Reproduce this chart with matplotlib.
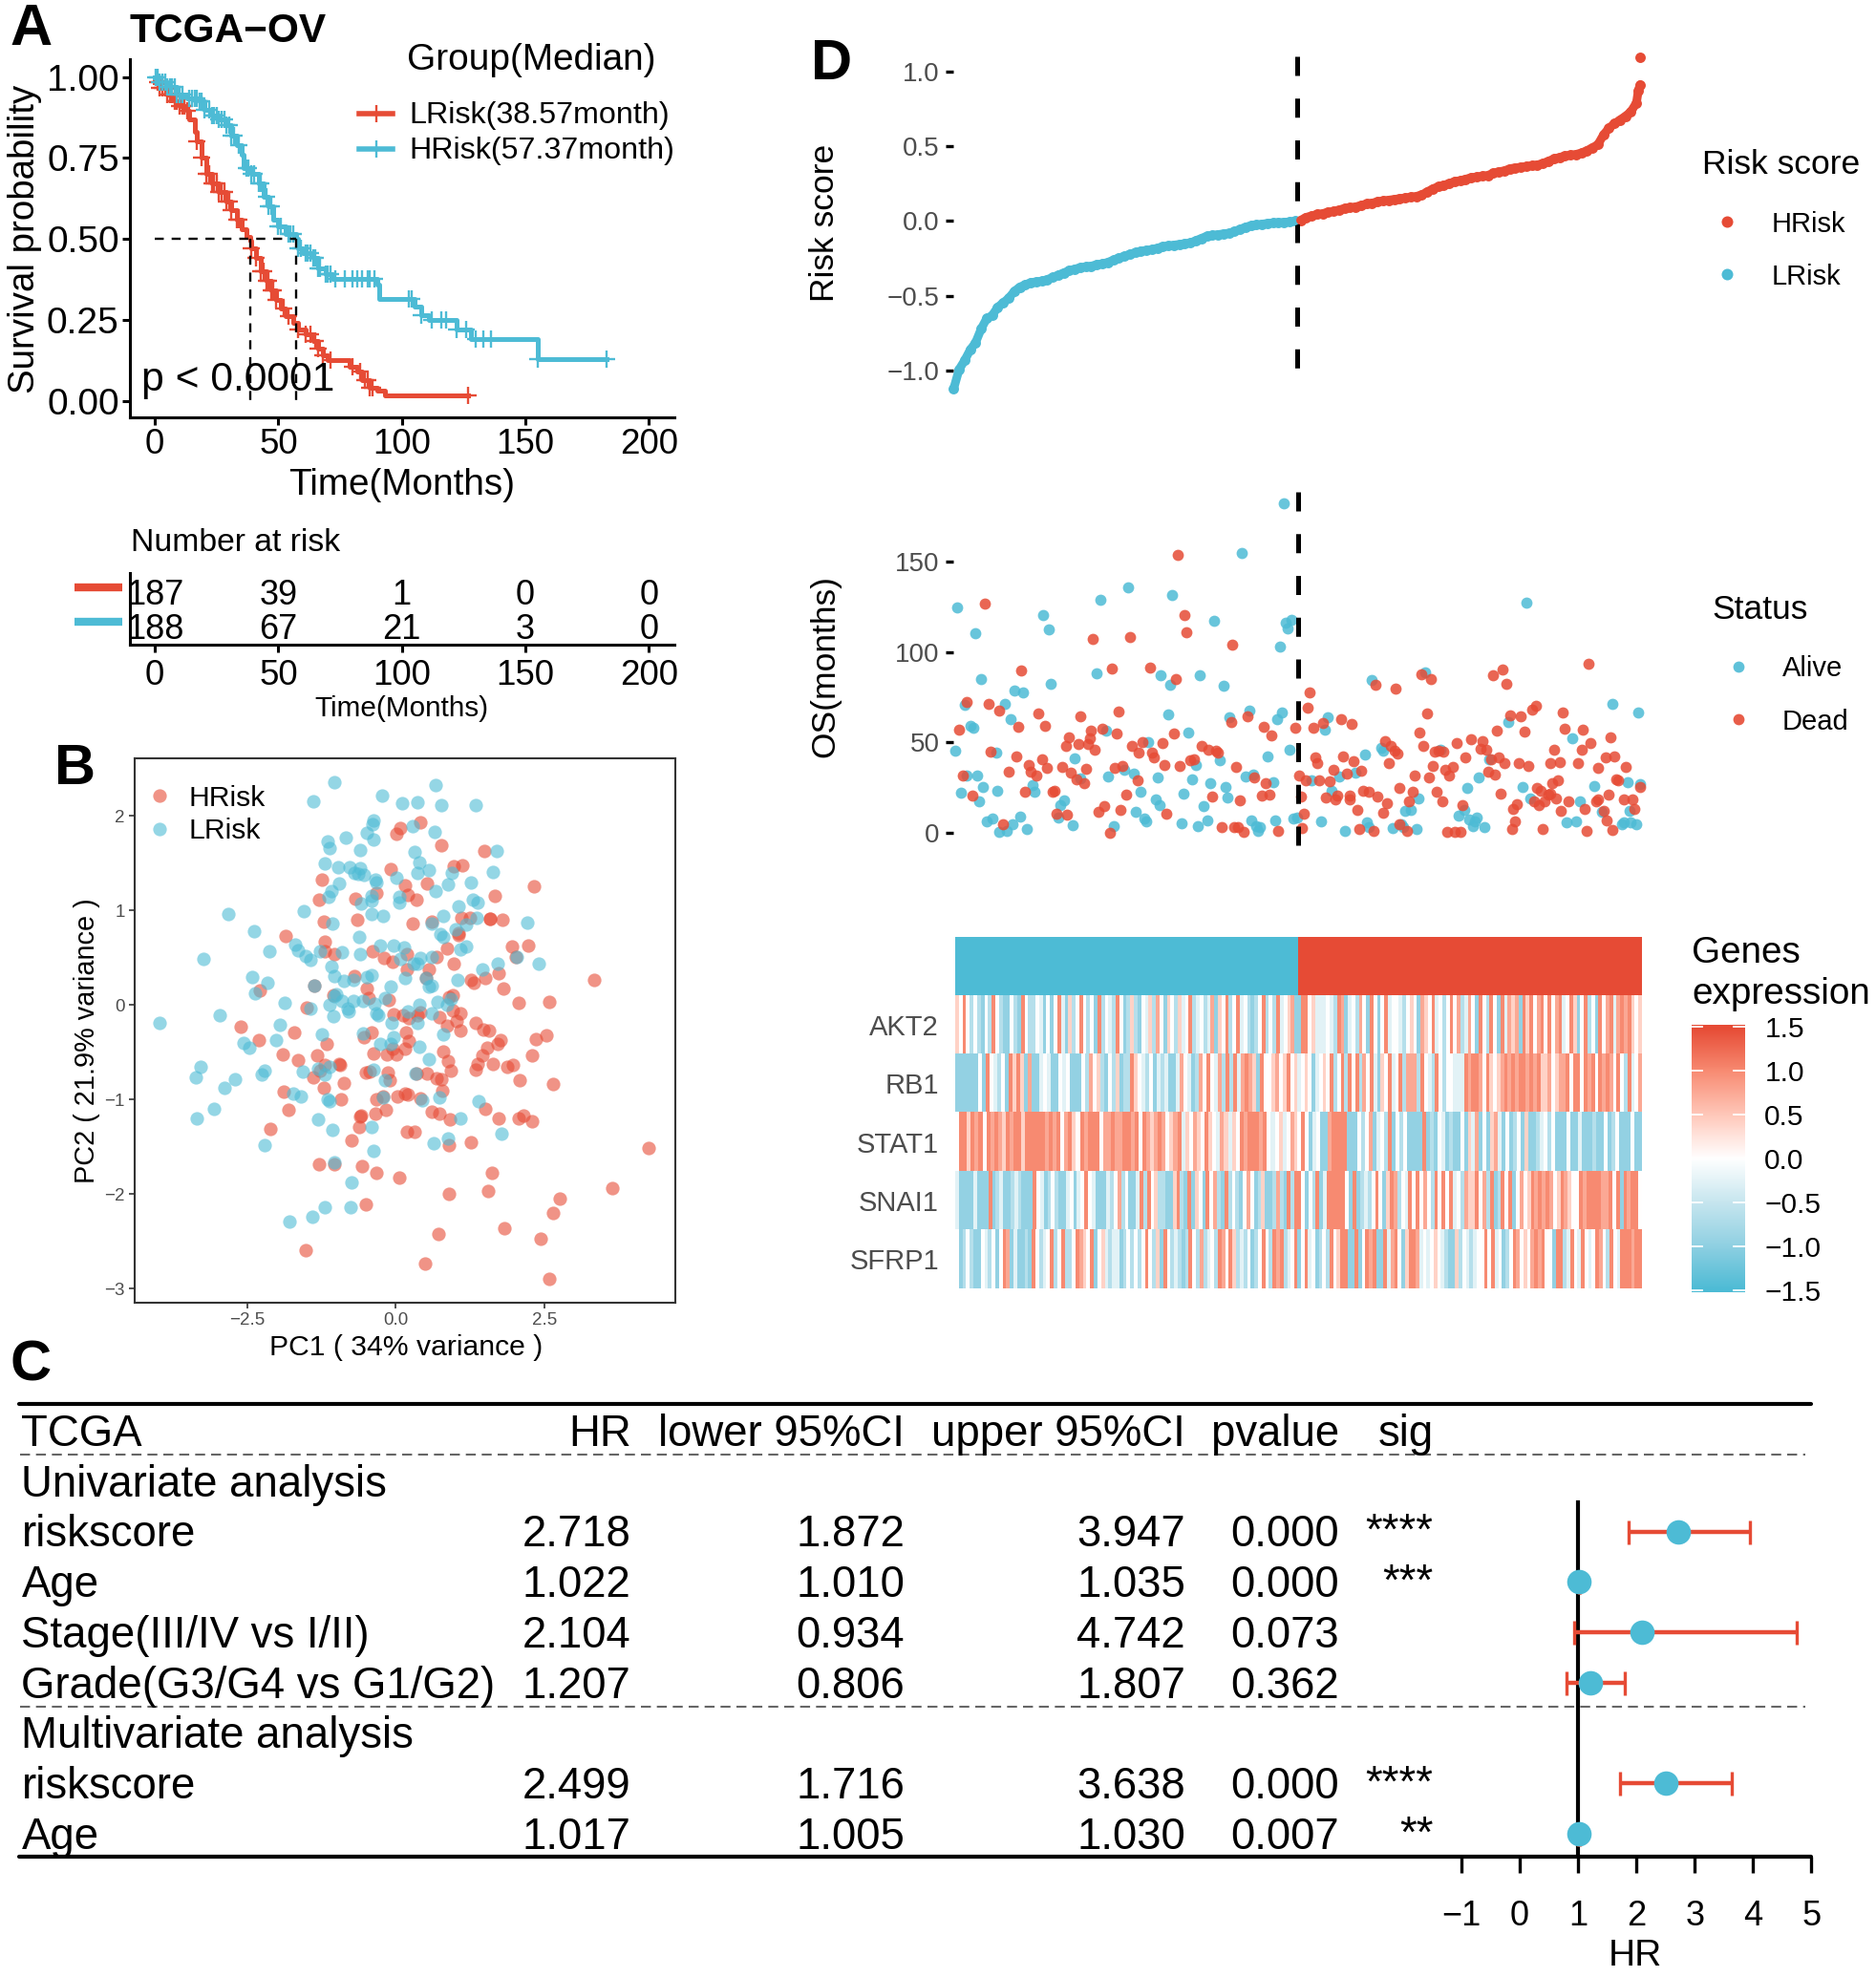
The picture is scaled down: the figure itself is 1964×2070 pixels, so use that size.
import numpy as np
import matplotlib
matplotlib.use('Agg')
import matplotlib.pyplot as plt
from matplotlib.colors import LinearSegmentedColormap

plt.rcParams['font.family'] = ['Liberation Sans', 'DejaVu Sans']

RED = '#E64B35'
BLUE = '#4DBBD5'
GRAY = '#4d4d4d'

# panel A, survival curves
lrisk_t = [0, 2, 5, 8, 10, 13, 14, 16, 17, 19, 21, 23, 26, 29, 31, 33, 35, 37, 38.57, 39, 41, 43, 45, 47, 49, 51, 53, 56, 58, 61, 64, 66, 68, 70, 77, 79, 82, 84, 87, 90, 93, 127]
lrisk_s = [0.985, 0.965, 0.945, 0.925, 0.91, 0.895, 0.87, 0.83, 0.80, 0.75, 0.70, 0.67, 0.645, 0.615, 0.59, 0.56, 0.53, 0.505, 0.495, 0.47, 0.44, 0.40, 0.37, 0.34, 0.31, 0.285, 0.26, 0.24, 0.22, 0.205, 0.185, 0.16, 0.14, 0.125, 0.125, 0.105, 0.09, 0.065, 0.04, 0.03, 0.015, 0.015]
hrisk_t = [0, 2, 5, 9, 13, 18, 20, 23, 26, 29, 31, 33, 35, 36, 39, 42, 44, 46, 48, 50, 53, 57.37, 58, 60, 64, 66, 69, 72, 90, 91, 103, 105, 108, 111, 120, 122, 127, 128, 154, 155, 183]
hrisk_s = [1.0, 0.985, 0.97, 0.945, 0.935, 0.925, 0.90, 0.88, 0.87, 0.85, 0.82, 0.79, 0.76, 0.72, 0.70, 0.67, 0.63, 0.60, 0.56, 0.54, 0.515, 0.50, 0.47, 0.455, 0.44, 0.41, 0.39, 0.375, 0.36, 0.315, 0.315, 0.29, 0.265, 0.25, 0.25, 0.22, 0.22, 0.19, 0.19, 0.13, 0.13]
lrisk_cens = [1, 2, 3, 4, 5, 6, 7, 8, 9, 10, 11, 12, 13, 17, 19, 21, 22, 23, 24, 25, 26, 27, 28, 29, 30, 31, 33, 34, 39, 41, 43, 44, 45, 46, 47, 48, 49, 52, 54, 58, 61, 63, 65, 66, 68, 71, 80, 83, 85, 86, 87, 88, 127]
hrisk_cens = [0.5, 1, 2, 3, 4, 5, 6, 7, 8, 9, 10, 11, 14, 15, 16, 17, 18, 19, 20, 22, 23, 24, 25, 26, 27, 28, 29, 30, 31, 32, 34, 37, 38, 39, 40, 42, 43, 45, 46, 47, 50, 51, 54, 55, 56, 58, 59, 61, 62, 63, 64, 65, 66, 67, 69, 70, 71, 73, 77, 80, 82, 84, 86, 87, 89, 103, 104, 108, 112, 116, 118, 122, 126, 130, 133, 136, 155, 183]
median_months = [38.57, 57.37]
risk_times = [0, 50, 100, 150, 200]
at_risk_l = [187, 39, 1, 0, 0]
at_risk_h = [188, 67, 21, 3, 0]

# panel B, PCA
pca_h_x = [2.33, 1.67, 1.49, 1.12, .98, .77, .41, .08, .01, -.08, .15, .53, .21, .34, -1.25, -1.29, -.68, -.32, -1.21, -.65, .29, .60, 1.10, 1.24, 1.58, 1.59, 1.80, 1.05, 1.05, -1.86, -1.19, -1.19, -1.04, -.39, -.20, -.05, .19, .68, .86, 1.95, 2.23, 2.02, .98, .18, .55, .51, -.70, -.49, -1.37, -.46, -1.05, -2.28, 1.73, 1.50, 1.26, 1.31, 1.81, 3.34, 2.06, 2.58, .96, .89, -.11, -1.50, -.04, .12, .22, .37, .41, .74, .96, 1.08, 1.03, .86, 1.08, 1.35, 1.47, 1.57, 2.54, 2.35, -2.61, -2.30, -1.71, -.40, -.53, .17, .22, 1.76, 1.71, 1.53, -1.17, -.05, .15, -.15, .01, -.38, .79, 1.45, 2.30, -1.90, -1.65, -1.33, -1.20, -.96, -.94, .88, 1.38, 1.64, 1.97, 1.88, .92, 1.35, -1.28, -1.39, -.51, -.44, -.13, -.10, .35, .53, .69, .77, 2.09, 2.65, -.88, -1.21, -1.88, .78, -.92, -.32, -.22, .03, .16, .20, .41, -1.80, -.16, -.34, .60, .74, .91, 1.50, 1.73, 2.06, 2.15, 2.30, -.60, -.58, -.62, -2.11, .19, .32, -.75, .89, 1.26, -1.29, -1.03, -.57, -.33, .06, 1.62, 1.55, .90, 3.64, 4.26, 2.75, 2.65, -.51, 1.82, .72, 2.44, -1.51, .49, 2.58]
pca_h_y = [1.26, 1.15, 1.63, 1.48, 1.47, 1.69, 1.93, 1.87, 1.81, 1.44, 1.27, 1.29, 1.16, 1.11, 1.33, 1.11, 1.12, 1.18, .88, .90, .86, .88, .92, .92, .91, .91, .90, .76, .74, .73, .67, .57, .54, .57, .50, .46, .54, .51, .60, .62, .63, .51, .44, .38, .38, .29, .31, .17, .20, .07, .10, .15, .34, .29, .26, .23, .17, .26, .02, .03, .10, .08, .05, -.03, -.10, -.11, -.14, -.11, -.08, -.13, -.06, -.09, -.17, -.22, -.27, -.19, -.26, -.27, -.32, -.36, -.23, -.37, -.29, -.29, -.34, -.29, -.38, -.37, -.41, -.45, -.41, -.46, -.46, -.52, -.52, -.51, -.49, -.53, -.53, -.52, -.58, -.53, -.63, -.62, -.63, -.59, -.62, -.62, -.63, -.65, -.70, -.69, -.70, -.77, -.72, -.71, -.72, -.80, -.73, -.73, -.78, -.79, -.80, -.84, -.83, -.88, -.92, -.91, -1.00, -1.00, -.97, -.97, -.94, -.95, -.99, -1.11, -1.11, -1.15, -1.13, -1.15, -1.21, -1.10, -1.20, -1.20, -1.17, -1.23, -1.18, -1.17, -1.29, -1.31, -1.34, -1.34, -1.43, -1.48, -1.45, -1.69, -1.69, -1.71, -1.78, -1.83, -1.78, -1.97, -2.00, -1.94, -1.51, -2.05, -2.20, -2.11, -2.36, -2.42, -2.47, -2.60, -2.74, -2.90]
pca_l_x = [-1.03, .67, -1.38, -.23, .11, .37, .77, 1.35, -.37, -.39, .29, .65, -.48, -.84, -.38, -1.14, -1.12, -.60, 1.70, .31, .39, -1.19, -.97, -.77, -.60, -.70, -.63, -.53, .56, .37, .94, 1.63, .01, -.34, -.33, -.95, -1.09, -1.13, 1.27, .88, .67, -.41, -.40, -.58, .06, .06, 1.29, 1.38, 1.05, -1.55, -2.82, -.41, -.22, .79, 1.36, 1.19, 2.21, -1.06, .60, 1.01, -2.39, .75, -.61, .80, -1.69, -1.64, -.27, -.04, .14, 1.18, 1.09, -2.12, -1.27, -.91, -.60, -1.52, -1.43, .61, .41, .08, .30, .37, 2.04, -3.23, 2.41, 1.71, 1.45, -1.09, -1.03, -2.42, -.41, -.48, -2.16, -.88, -.71, .16, 1.04, .51, .61, .55, -.09, -2.36, -1.37, -1.00, -1.03, -1.87, -1.12, -.90, -.71, -.55, -.36, -.18, .39, .70, .93, .87, -.81, -.80, -1.43, -2.96, -1.05, -.33, -.29, .21, .60, -.07, .36, -1.95, -1.24, -.55, -.03, .79, -2.56, -2.01, -2.46, -.26, .40, .56, -.08, -3.28, -3.36, -2.71, -2.88, -2.20, -2.25, -1.57, -1.30, -1.11, -1.19, -.37, -.18, .33, -1.73, -1.60, -3.06, -3.34, -1.14, -1.11, -.21, .44, .73, 1.40, -1.31, -1.07, 1.08, -.40, 1.78, -2.21, .64, .88, -.37, -1.03, -.75, -.76, -1.19, -1.41, -1.79, -3.97]
pca_l_y = [2.36, 2.33, 2.15, 2.22, 2.13, 2.14, 2.11, 2.11, 1.95, 1.91, 1.89, 1.83, 1.82, 1.77, 1.75, 1.73, 1.66, 1.64, 1.63, 1.62, 1.51, 1.50, 1.46, 1.46, 1.45, 1.40, 1.39, 1.38, 1.43, 1.40, 1.40, 1.41, 1.35, 1.33, 1.30, 1.29, 1.20, 1.14, 1.30, 1.28, 1.20, 1.15, 1.10, 1.07, 1.14, 1.08, 1.11, 1.08, 1.04, .99, .96, .96, .94, .94, .92, .85, .87, .86, .86, .80, .78, .75, .72, .72, .64, .58, .63, .63, .61, .62, .59, .57, .57, .56, .54, .52, .48, .51, .50, .49, .44, .44, .51, .49, .44, .44, .38, .41, .31, .30, .32, .30, .23, .25, .26, .28, .26, .29, .20, .19, .19, .12, .20, .11, .09, .02, 0, .04, .04, .04, .01, .07, 0, .03, .06, 0, -.04, -.07, -.04, -.11, -.12, -.09, -.11, -.07, -.09, -.19, -.19, -.21, -.31, -.30, -.34, -.31, -.40, -.37, -.45, -.41, -.44, -.57, -.41, -.65, -.77, -.79, -.88, -.70, -.74, -.71, -.67, -.65, -.74, -.69, -.80, -.73, -.94, -.97, -1.10, -1.20, -1.00, -1.02, -.98, -1.01, -.98, -1.02, -1.21, -1.32, -1.20, -1.29, -1.36, -1.48, -1.46, -1.41, -1.54, -1.67, -1.88, -2.14, -2.14, -2.24, -2.29, -.19]

# panel D, risk score: every third rank, then the last few patients
score_low = [-1.12, -.99, -.93, -.86, -.81, -.72, -.65, -.63, -.575, -.545, -.515, -.47, -.44, -.425, -.41, -.405, -.40, -.39, -.375, -.36, -.345, -.33, -.32, -.31, -.305, -.30, -.29, -.285, -.275, -.26, -.245, -.235, -.22, -.21, -.20, -.195, -.19, -.18, -.17, -.165, -.16, -.155, -.15, -.145, -.13, -.115, -.10, -.095, -.09, -.085, -.08, -.07, -.055, -.04, -.03, -.025, -.02, -.015, -.012, -.01, -.008, -.005, 0.0]
score_high = [.005, .025, .035, .045, .05, .06, .065, .075, .085, .09, .095, .105, .115, .12, .13, .135, .14, .145, .15, .155, .16, .165, .175, .195, .215, .23, .24, .25, .265, .27, .28, .29, .295, .30, .305, .32, .33, .335, .35, .355, .36, .365, .37, .375, .385, .40, .415, .425, .435, .44, .445, .455, .47, .49, .51, .575, .62, .65, .675, .70, .73, .79]
score_tail_rank = [374, 375, 375]
score_tail = [.87, .91, 1.09]

# panel D, OS by rank
alive_rank = [3, 13, 16, 7, 10, 12, 2, 29, 32, 34, 39, 54, 50, 53, 81, 96, 120, 143, 79, 114, 119, 135, 148, 118, 151, 162, 177, 180, 179, 182, 185, 183, 158, 181, 84, 129, 107, 24, 67, 146, 133, 172, 184, 8, 14, 17, 5, 25, 15, 44, 45, 61, 59, 58, 66, 19, 22, 26, 30, 33, 37, 41, 88, 85, 94, 99, 70, 112, 103, 111, 113, 100, 105, 106, 126, 131, 141, 149, 150, 137, 125, 134, 139, 160, 164, 175, 163, 166, 168, 167, 176, 186, 188, 196, 201, 203, 205, 207, 211, 220, 225, 234, 235, 229, 258, 226, 227, 214, 240, 247, 250, 245, 246, 253, 254, 266, 276, 279, 281, 286, 282, 285, 284, 290, 287, 293, 303, 313, 311, 315, 335, 338, 342, 350, 354, 360, 365, 366, 370, 373, 368, 369, 374, 375, 340]
alive_os = [124.8, 110.6, 84.9, 70.6, 59.3, 58.1, 45.1, 71.3, 62.7, 78.9, 77.6, 82.2, 120.6, 112.7, 129.0, 135.6, 131.5, 117.3, 88.4, 87.1, 81.9, 87.0, 81.2, 65.7, 64.1, 67.8, 63.0, 66.4, 103.0, 116.4, 118.0, 112.9, 155.1, 182.4, 56.2, 55.3, 50.0, 44.4, 41.0, 40.3, 37.3, 42.4, 45.8, 31.5, 31.5, 25.0, 21.8, 23.1, 17.4, 26.4, 22.4, 18.0, 15.0, 8.3, 4.2, 6.3, 7.7, 0.4, 0.9, 4.4, 8.8, 1.9, 3.7, 30.8, 35.0, 32.4, 29.8, 30.6, 22.4, 18.1, 15.3, 11.3, 7.9, 6.0, 21.3, 29.4, 27.1, 25.4, 19.5, 14.4, 5.3, 3.7, 6.9, 31.2, 32.0, 28.0, 6.5, 3.5, 2.8, 0.9, 6.5, 7.6, 8.3, 29.0, 6.3, 57.2, 63.6, 22.9, 30.8, 32.9, 43.0, 46.7, 45.2, 84.5, 88.6, 5.6, 3.0, 0.9, 2.5, 12.1, 12.3, 4.8, 3.0, 2.1, 18.8, 46.1, 9.2, 12.7, 24.6, 8.3, 7.4, 6.0, 3.3, 2.8, 30.6, 40.5, 61.1, 127.1, 25.4, 18.8, 5.5, 52.3, 17.4, 25.9, 11.4, 71.1, 4.4, 5.6, 5.6, 4.8, 28.0, 11.8, 66.4, 26.8, 6.2]
dead_rank = [4, 18, 8, 20, 26, 36, 38, 47, 51, 70, 91, 87, 108, 122, 77, 97, 123, 127, 128, 153, 152, 161, 170, 174, 187, 195, 194, 197, 202, 212, 218, 231, 242, 256, 261, 259, 255, 295, 300, 302, 347, 318, 316, 310, 304, 312, 333, 334, 344, 297, 359, 21, 35, 42, 49, 43, 46, 52, 31, 6, 60, 62, 64, 69, 74, 75, 76, 82, 90, 78, 65, 68, 72, 73, 89, 93, 98, 104, 102, 109, 110, 115, 121, 116, 124, 130, 132, 136, 140, 144, 145, 155, 165, 171, 101, 11, 40, 55, 56, 57, 63, 80, 83, 92, 95, 117, 142, 157, 169, 173, 86, 147, 154, 156, 159, 178, 28, 189, 193, 200, 198, 199, 206, 208, 215, 213, 219, 223, 190, 204, 209, 210, 217, 217, 221, 192, 191, 222, 230, 224, 227, 232, 237, 235, 238, 236, 239, 241, 243, 244, 251, 249, 252, 257, 260, 262, 263, 265, 268, 264, 267, 271, 269, 273, 275, 280, 283, 288, 289, 291, 294, 292, 296, 298, 301, 299, 278, 244, 248, 270, 274, 277, 305, 307, 306, 308, 309, 314, 317, 320, 319, 321, 323, 325, 326, 327, 330, 326, 331, 328, 329, 332, 336, 322, 343, 341, 348, 352, 356, 361, 367, 362, 363, 358, 366, 371, 375, 372, 345, 351, 352, 355, 357, 346, 360]
dead_os = [57.2, 126.9, 72.5, 71.5, 67.3, 58.5, 89.6, 65.8, 59.3, 64.3, 66.9, 91.0, 91.4, 84.9, 107.2, 108.5, 153.9, 120.4, 110.9, 104.0, 61.1, 64.6, 58.8, 53.7, 58.1, 77.8, 69.4, 57.9, 60.7, 62.9, 59.9, 81.9, 79.9, 87.5, 85.0, 66.2, 55.3, 87.1, 90.3, 82.6, 93.5, 70.2, 68.1, 64.4, 65.1, 55.8, 66.7, 57.6, 57.0, 56.2, 52.6, 44.9, 41.9, 37.3, 40.7, 33.8, 31.5, 35.6, 33.8, 31.5, 36.1, 47.9, 52.6, 49.1, 49.1, 52.3, 56.7, 57.6, 54.9, 45.6, 32.9, 29.4, 27.1, 35.2, 35.6, 36.8, 47.9, 50.2, 44.2, 44.4, 41.7, 49.6, 54.9, 37.3, 36.6, 40.0, 40.5, 47.9, 46.1, 45.2, 44.2, 36.4, 30.3, 27.1, 28.9, 20.2, 22.4, 22.7, 23.1, 10.4, 9.7, 11.4, 14.8, 12.3, 21.1, 10.4, 20.1, 18.0, 20.6, 21.0, 0, 2.8, 3.0, 3.0, 0.4, 0.7, 4.4, 31.5, 29.0, 29.0, 41.7, 38.2, 28.2, 35.0, 32.6, 42.3, 39.6, 34.3, 19.7, 19.2, 18.5, 20.6, 20.6, 18.5, 12.5, 10.4, 2.6, 1.9, 0.7, 23.2, 22.4, 19.7, 16.2, 11.1, 38.2, 50.5, 48.2, 45.2, 43.8, 24.5, 22.7, 17.4, 31.5, 48.2, 30.6, 36.8, 44.9, 45.2, 44.9, 22.4, 17.4, 31.5, 34.7, 36.4, 49.3, 41.5, 51.9, 46.5, 50.5, 45.6, 40.8, 33.8, 31.9, 41.7, 38.2, 21.5, 15.3, 4.8, 0.7, 0.4, 0.4, 0.4, 1.9, 6.2, 13.0, 15.7, 38.6, 36.8, 17.4, 15.0, 24.5, 23.2, 17.1, 21.0, 21.5, 27.3, 29.0, 38.6, 38.9, 45.6, 18.8, 11.8, 17.1, 1.9, 46.1, 38.7, 49.5, 35.6, 41.7, 42.4, 36.1, 29.4, 29.0, 21.0, 18.5, 18.1, 25.0, 13.0, 13.0, 17.4, 18.5, 11.8, 6.5, 0.9, 1.2]

# panel D, heatmap: one letter per couple of patients, a = strong blue .. g = strong red
genes = ['AKT2', 'RB1', 'STAT1', 'SNAI1', 'SFRP1']
level_values = dict(a=-0.95, b=-0.65, c=-0.25, d=0.0, e=0.4, f=0.75, g=1.0)
expr_low = [
    'edgdbdbadbgdbaadbagdbbdcadadgcaebdgdbdagbdcbgdabebadcebfdaedbecdgbcdbcfaedgbdgcdbabdgbdbgcdefa',
    'aaaaaadagdcbdagegeafaacdcaadcdaaadbfdebadbeabbgedcbdacbcaacfdcabfdgdcfbgbgcfgfeagddefdegde',
    'dggegfgdgfgfegfggegggggfgfgdfgedgfgggdffgffggfgdgfefgfdefgcedfedgedcfecedgfgggfgdcdecdfe',
    'caaaacaaagabcaabcbaaagdcabdbaacdacdgdcaaacbdfbdaacgbgdebbaaegbagaedagdfbagbdbadfdabeaabfbagbg',
    'dabdbaadcbdadgfacaabagdbcdgbdgbbdgfedgadecbccabdbdbdgdbeagdbcbabgdbfbcdbgfdgebcbdabdgdbgfgbcdg',
]
expr_high = [
    'aggdecccdcbgfacdbfdagdadgcddcbdedafedgcdbdgdfbcfdagdbgdagcfefagegdfgdgdfgcdgeadgbdagdfgcfgfgede',
    'cdedacdedgbdgbgdgbfdgcaedgcdgbfffbgdcbgdbddcccgfggfdgedefgfgfggfgfgeefdeffgdggdgfgdgfgfdgdbgcdf',
    'dgdacdaafggggaaadbdfacdbgadbdaaaagabadcabaadaecfadaefcadabdaeaabcdbdaaadaacaaabaadabdaaadaa',
    'gdadbgacgggggdagabcbdgdaegfbdcgdgdfdbgdgdgcdbfeegdfbgabgdgadfdegfgfgfdegfeddgfggggffgdgagfggd',
    'adgcdabdbgdeggaagadgfgaagcfgdaeggfcdcdedcbaaebdcbcddgdgcdabdgfdedfgfgddaggbcgdcgdcdgfdbgdcgggfgg',
]

# panel C, Cox table
row_names = ['riskscore', 'Age', 'Stage(III/IV vs I/II)', 'Grade(G3/G4 vs G1/G2)', 'riskscore', 'Age']
row_pos = [2, 3, 4, 5, 7, 8]
hr = [2.718, 1.022, 2.104, 1.207, 2.499, 1.017]
lower = [1.872, 1.010, 0.934, 0.806, 1.716, 1.005]
upper = [3.947, 1.035, 4.742, 1.807, 3.638, 1.030]
pvalue = [0.000, 0.000, 0.073, 0.362, 0.000, 0.007]
sig = ['****', '***', '', '', '****', '**']


S = 1965 / 1490.0
fig = plt.figure(figsize=(19.65, 20.70), dpi=100)
H = 2070 / S


def ax_at(x0, y0, x1, y1):
    return fig.add_axes([x0 / 1490.0, 1 - y1 / H, (x1 - x0) / 1490.0, (y1 - y0) / H])


# everything placed by hand goes on this one
ov = fig.add_axes([0, 0, 1, 1], zorder=10)
ov.set_xlim(0, 1490)
ov.set_ylim(H, 0)
ov.axis('off')
ov.patch.set_alpha(0)


def T(x, y, s, size, **kw):
    kw.setdefault('va', 'center')
    if kw['va'] == 'center':
        y = y + 2
    return ov.text(x, y, s, fontsize=size, **kw)


def dark_axes(ax):
    for side in ['top', 'right']:
        ax.spines[side].set_visible(False)
    for side in ['left', 'bottom']:
        ax.spines[side].set_linewidth(2.2)


# A
ax = ax_at(103, 47, 535, 331)
ax.set_xlim(-10.2, 210.2)
ax.set_ylim(-0.05, 1.055)
dark_axes(ax)
ax.step(lrisk_t, lrisk_s, where='post', color=RED, lw=3.6)
ax.step(hrisk_t, hrisk_s, where='post', color=BLUE, lw=3.6)
for times, surv, cens, col in [(lrisk_t, lrisk_s, lrisk_cens, RED), (hrisk_t, hrisk_s, hrisk_cens, BLUE)]:
    idx = np.searchsorted(times, cens, side='right') - 1
    ax.plot(cens, np.array(surv)[idx], '+', color=col, ms=13, mew=1.7)
ax.plot([0, median_months[1]], [0.5, 0.5], color='k', lw=1.7, dashes=(4, 3.5))
for m in median_months:
    ax.plot([m, m], [0.5, 0], color='k', lw=1.7, dashes=(4, 3.5))
ax.set_xticks(risk_times)
ax.set_yticks([0, 0.25, 0.5, 0.75, 1.0])
ax.set_yticklabels(['0.00', '0.25', '0.50', '0.75', '1.00'])
ax.tick_params(axis='x', labelsize=26.5, width=2.2, length=6, pad=2)
ax.tick_params(axis='y', labelsize=28, width=2.2, length=6, pad=2)
T(20, 188, 'Survival probability', 27.6, rotation=90, ha='center')
T(319, 383, 'Time(Months)', 27.9, ha='center')
T(112, 300, 'p < 0.0001', 30.7)
T(103, 23, 'TCGA\u2212OV', 30.5, fontweight='bold')
T(323, 46, 'Group(Median)', 27.9)
for y, col, lab in [(90, RED, 'LRisk(38.57month)'), (118, BLUE, 'HRisk(57.37month)')]:
    ov.plot([285, 312], [y, y], color=col, lw=4)
    ov.plot([298.5], [y], '+', color=col, ms=13, mew=1.7)
    T(325, y, lab, 23.2)

# risk table
ax = ax_at(103, 455, 535, 512)
ax.set_xlim(-10.2, 210.2)
ax.set_ylim(-0.45, 1.65)
dark_axes(ax)
for t, a, b in zip(risk_times, at_risk_l, at_risk_h):
    ax.text(t, 1, str(a), fontsize=26, ha='center', va='center')
    ax.text(t, 0, str(b), fontsize=26, ha='center', va='center')
ax.set_xticks(risk_times)
ax.set_yticks([])
ax.tick_params(labelsize=26.5, width=2.2, length=6, pad=5)
T(104, 429, 'Number at risk', 24.3)
T(319, 561, 'Time(Months)', 21.4, ha='center')
ov.plot([59, 97], [466, 466], color=RED, lw=6, solid_capstyle='butt')
ov.plot([59, 97], [494, 494], color=BLUE, lw=6, solid_capstyle='butt')

# B
ax = ax_at(107, 602, 536, 1034)
ax.set_xlim(-4.39, 4.70)
ax.set_ylim(-3.147, 2.61)
ax.scatter(pca_h_x, pca_h_y, s=105, color=RED, alpha=0.6, linewidths=0)
ax.scatter(pca_l_x, pca_l_y, s=105, color=BLUE, alpha=0.6, linewidths=0)
ax.set_xticks([-2.5, 0, 2.5])
ax.set_xticklabels(['\u22122.5', '0.0', '2.5'])
ax.set_yticks([-3, -2, -1, 0, 1, 2])
ax.tick_params(labelsize=13.5, labelcolor=GRAY, color='#333333', width=1.2, length=4)
for sp in ax.spines.values():
    sp.set_linewidth(1.5)
    sp.set_color('#333333')
T(322, 1068, 'PC1 ( 34% variance )', 21.7, ha='center')
T(69, 824, 'PC2 ( 21.9% variance )', 20.8, rotation=90, ha='center')
for y, col, lab in [(632, RED, 'HRisk'), (658, BLUE, 'LRisk')]:
    ov.scatter([127], [y], s=105, color=col, alpha=0.6, linewidths=0)
    T(150, y, lab, 21.7)

# D risk score
ax = ax_at(757, 40, 1302, 310)
ax.set_xlim(1, 375)
ax.set_ylim(-1.13, 1.139)
low_rank = np.arange(1, 188, 3)
high_rank = np.arange(190, 376, 3)
ax.plot(low_rank, score_low, color=BLUE, lw=6.5, solid_capstyle='round', clip_on=False)
ax.plot(np.r_[high_rank, score_tail_rank[:2]], np.r_[score_high, score_tail[:2]], color=RED, lw=6.5, solid_capstyle='round', clip_on=False)
ax.scatter(low_rank, score_low, s=62, color=BLUE, linewidths=0, clip_on=False)
ax.scatter(high_rank, score_high, s=62, color=RED, linewidths=0, clip_on=False)
ax.scatter(score_tail_rank, score_tail, s=62, color=RED, linewidths=0, clip_on=False)
ax.plot([188, 188], [1.097, -1.004], color='k', lw=3.6, dashes=(4, 4.75), zorder=1)
for side in ['top', 'right', 'bottom', 'left']:
    ax.spines[side].set_visible(False)
ax.set_xticks([])
ax.set_yticks([-1, -0.5, 0, 0.5, 1])
ax.set_yticklabels(['\u22121.0', '\u22120.5', '0.0', '0.5', '1.0'])
ax.tick_params(labelsize=20, labelcolor=GRAY, width=2.4, length=5.5, pad=5)
T(655, 175, 'Risk score', 25.5, rotation=90, ha='center')
T(1351, 129, 'Risk score', 25.5)
for y, col, lab in [(176, RED, 'HRisk'), (218, BLUE, 'LRisk')]:
    ov.scatter([1371], [y], s=75, color=col, linewidths=0)
    T(1406, y, lab, 21)

# D OS
ax = ax_at(757, 385, 1302, 680)
ax.set_xlim(1, 375)
ax.set_ylim(-13.3, 192.6)
ax.scatter(alive_rank, alive_os, s=72, color=BLUE, alpha=0.85, linewidths=0, clip_on=False)
ax.scatter(dead_rank, dead_os, s=72, color=RED, alpha=0.85, linewidths=0, clip_on=False)
ax.plot([188.5, 188.5], [189, -9], color='k', lw=3.6, dashes=(4, 4.75))
for side in ['top', 'right', 'bottom', 'left']:
    ax.spines[side].set_visible(False)
ax.set_xticks([])
ax.set_yticks([0, 50, 100, 150])
ax.tick_params(labelsize=20, labelcolor=GRAY, width=2.4, length=5.5, pad=5)
T(655, 527, 'OS(months)', 25.5, rotation=90, ha='center')
T(1359, 482, 'Status', 25.5)
for y, col, lab in [(529, BLUE, 'Alive'), (571, RED, 'Dead')]:
    ov.scatter([1380], [y], s=72, color=col, alpha=0.9, linewidths=0)
    T(1415, y, lab, 21)

# D heatmap
cmap = LinearSegmentedColormap.from_list('expr', [BLUE, '#8FD0E2', '#C7E6EF', '#ffffff', '#FFC8BA', '#F88B72', RED])
ax = ax_at(758, 744, 1303, 1023)
ax.imshow([[0, 1]], extent=(0, 375, 1, 0), cmap=LinearSegmentedColormap.from_list('grp', [BLUE, RED]), aspect='auto', interpolation='nearest')
for i in range(5):
    vals_l = [level_values[c] for c in expr_low[i]]
    vals_h = [level_values[c] for c in expr_high[i]]
    ax.imshow([vals_l], extent=(0, 187, i + 2, i + 1), cmap=cmap, vmin=-1.5, vmax=1.5, aspect='auto', interpolation='nearest')
    ax.imshow([vals_h], extent=(187, 375, i + 2, i + 1), cmap=cmap, vmin=-1.5, vmax=1.5, aspect='auto', interpolation='nearest')
ax.set_xlim(0, 375)
ax.set_ylim(6, 0)
ax.set_xticks([])
ax.set_yticks(np.arange(5) + 1.5)
ax.set_yticklabels(genes)
ax.tick_params(labelsize=21, labelcolor=GRAY, length=0, pad=12)
for sp in ax.spines.values():
    sp.set_visible(False)

# colour bar
ax = ax_at(1343, 814, 1385, 1026)
grad = np.linspace(1.52, -1.52, 256).reshape(-1, 1)
ax.imshow(grad, extent=(0, 1, -1.52, 1.52), cmap=cmap, vmin=-1.5, vmax=1.5, aspect='auto')
cbar_ticks = [-1.5, -1.0, -0.5, 0.0, 0.5, 1.0, 1.5]
for v in cbar_ticks:
    ax.plot([0, 0.2], [v, v], color='w', lw=1.3)
    ax.plot([0.8, 1], [v, v], color='w', lw=1.3)
ax.set_xlim(0, 1)
ax.set_ylim(-1.52, 1.52)
ax.set_xticks([])
ax.yaxis.tick_right()
ax.set_yticks(cbar_ticks)
ax.set_yticklabels(['\u22121.5', '\u22121.0', '\u22120.5', '0.0', '0.5', '1.0', '1.5'])
ax.tick_params(labelsize=21.5, length=0, pad=15)
for sp in ax.spines.values():
    sp.set_visible(False)
T(1343, 755, 'Genes', 27.8)
T(1343, 787, 'expression', 27.8)

# C table
ov.plot([15, 1438], [1115, 1115], color='k', lw=3, solid_capstyle='round')
ov.plot([15, 1438], [1474, 1474], color='k', lw=3, solid_capstyle='round')
for y in [1155, 1355]:
    ov.plot([16, 1433], [y, y], color='#666666', lw=1.5, dashes=(5, 3))
base = lambda row: 1148 + 40 * row
FS = 32.8
FN = 32.9
T(17, base(0), 'TCGA', FN, va='baseline')
for x, s in [(501, 'HR'), (718, 'lower 95%CI'), (941, 'upper 95%CI'), (1063, 'pvalue'), (1138, 'sig')]:
    T(x, base(0), s, FS, va='baseline', ha='right')
T(17, base(1), 'Univariate analysis', FN, va='baseline')
T(17, base(6), 'Multivariate analysis', FN, va='baseline')
for i, r in enumerate(row_pos):
    T(17, base(r), row_names[i], FN, va='baseline')
    T(501, base(r), '%.3f' % hr[i], FS, va='baseline', ha='right')
    T(718, base(r), '%.3f' % lower[i], FS, va='baseline', ha='right')
    T(941, base(r), '%.3f' % upper[i], FS, va='baseline', ha='right')
    T(1063, base(r), '%.3f' % pvalue[i], FS, va='baseline', ha='right')
    T(1138, base(r) - 2, sig[i], FS, va='baseline', ha='right')

# C forest
ax = ax_at(1160, 1115, 1438, 1474)
ax.set_xlim(-1, 5)
ax.set_ylim(8.45, -0.525)
ax.patch.set_alpha(0)
ax.plot([1, 1], [1.425, 8.45], color='k', lw=3, zorder=2)
hr_err = [np.array(hr) - np.array(lower), np.array(upper) - np.array(hr)]
ax.errorbar(hr, row_pos, xerr=hr_err, fmt='none', ecolor=RED, elinewidth=3.2, capsize=9, capthick=2.4, zorder=3)
ax.scatter(hr, row_pos, s=340, color=BLUE, linewidths=0, zorder=4, clip_on=False)
for side in ['top', 'right', 'left', 'bottom']:
    ax.spines[side].set_visible(False)
ax.set_yticks([])
ax.set_xticks([-1, 0, 1, 2, 3, 4, 5])
ax.set_xticklabels(['\u22121', '0', '1', '2', '3', '4', '5'])
ax.tick_params(labelsize=26, width=2.4, length=12.5, pad=20)
T(1298, 1551, 'HR', 28, ha='center')

# panel letters
T(8, 22, 'A', 44, fontweight='bold')
T(43, 609, 'B', 43, fontweight='bold')
T(8, 1082, 'C', 43, fontweight='bold')
T(644, 49, 'D', 43, fontweight='bold')

fig.savefig('out.png', dpi=100, facecolor='white')
